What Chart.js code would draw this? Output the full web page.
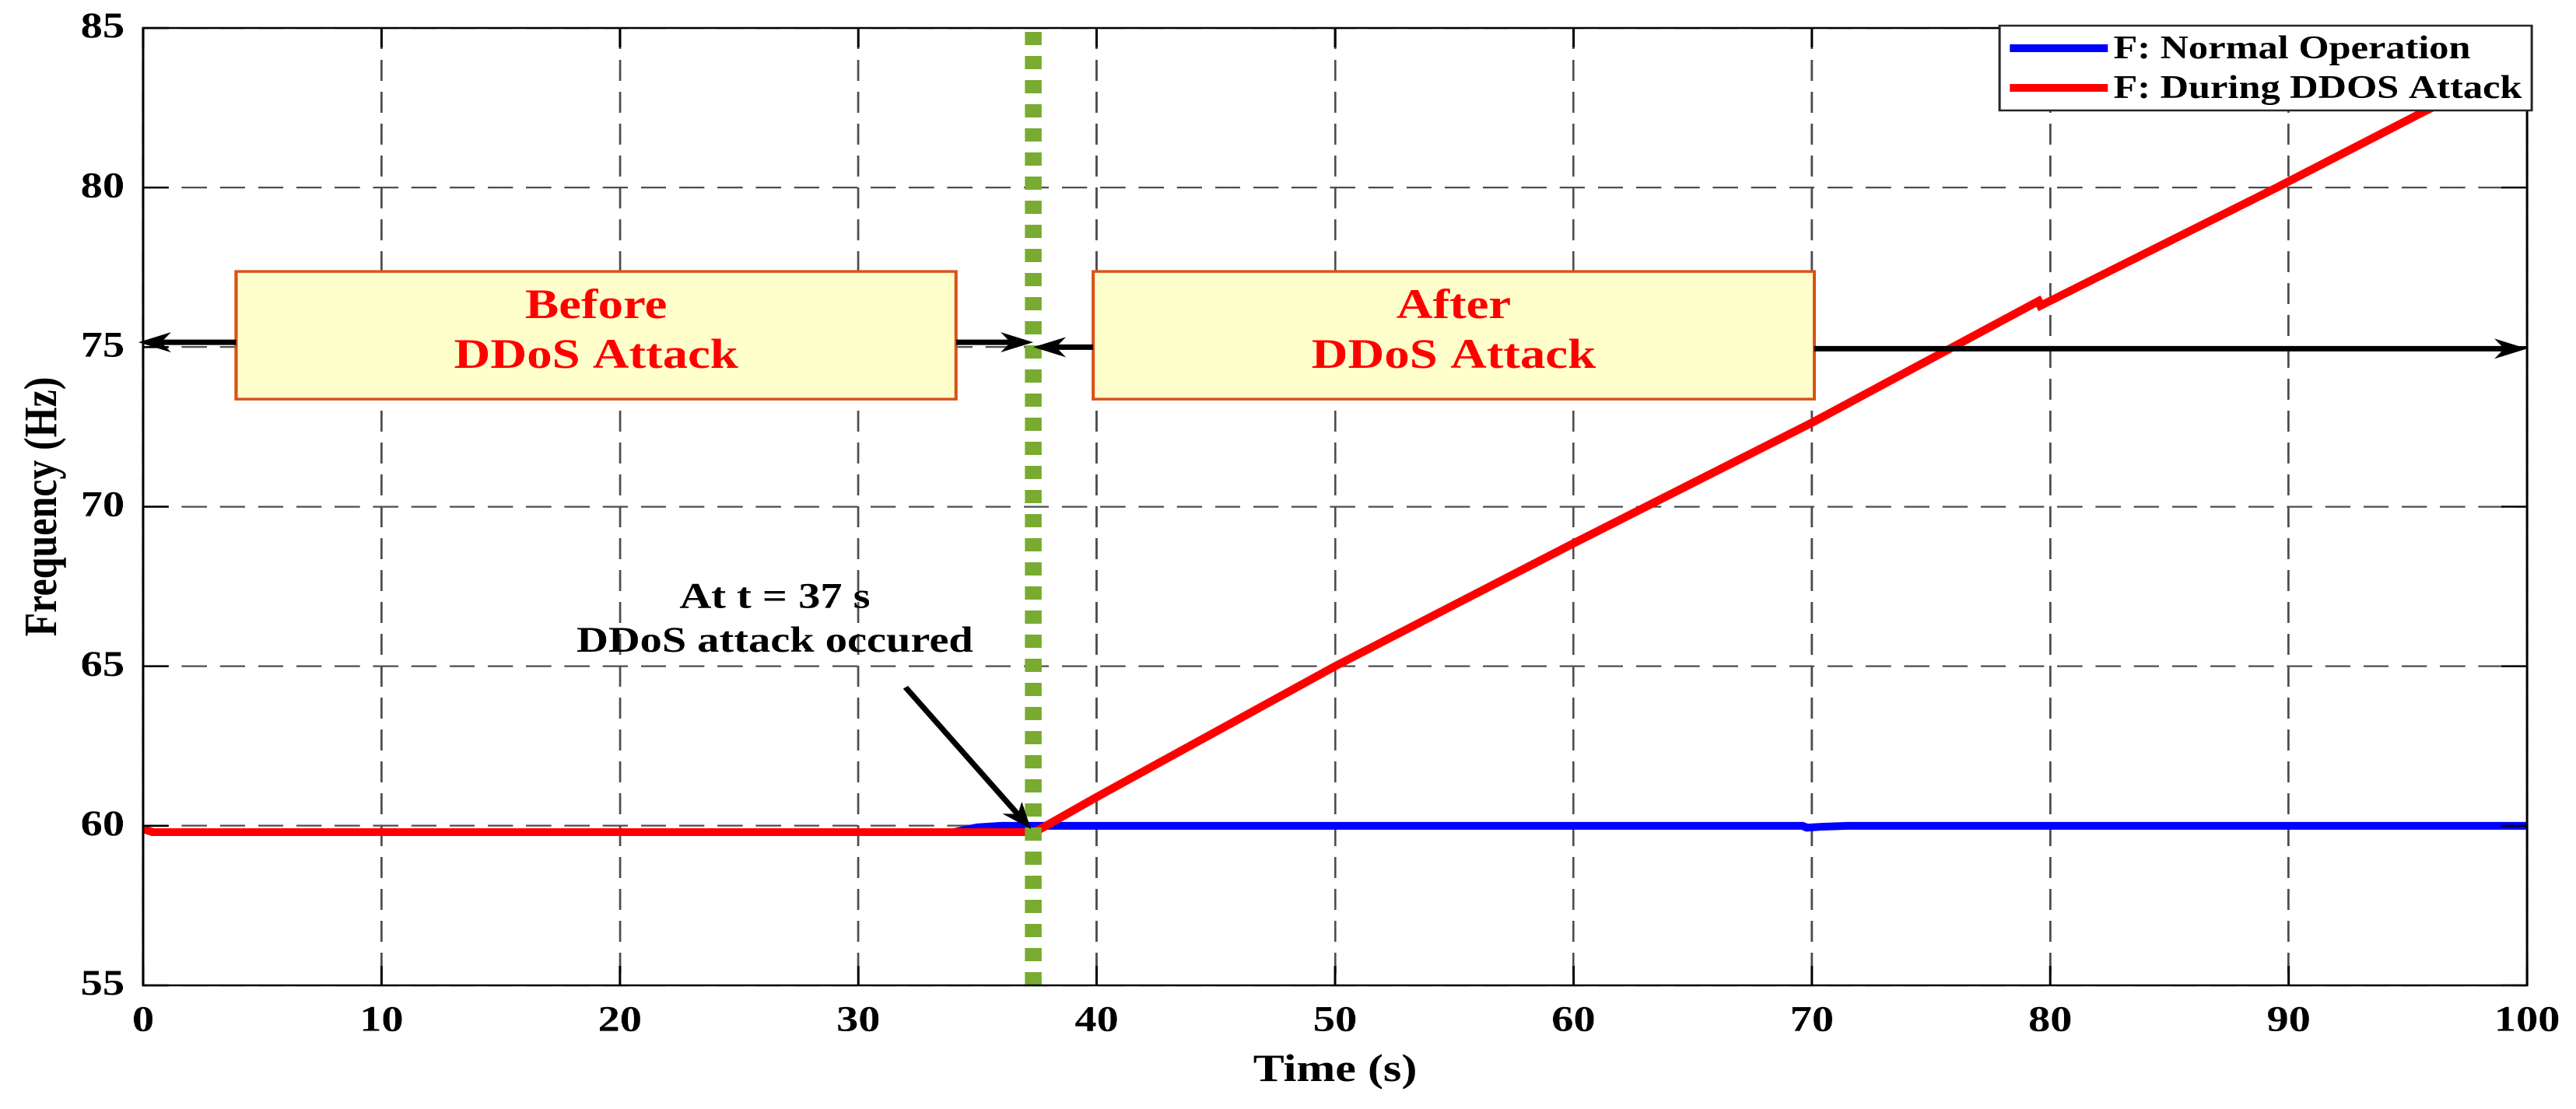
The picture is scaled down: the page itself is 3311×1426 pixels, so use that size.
<!DOCTYPE html>
<html>
<head>
<meta charset="utf-8">
<style>
  html, body { margin: 0; padding: 0; background: #fff; overflow: hidden; }
  /* the source figure is stretched sideways, so draw it narrow and widen it */
  #wrap { width: 2759.17px; height: 1426px; transform: scaleX(1.2); transform-origin: 0 0; }
</style>
</head>
<body>
<div id="wrap"><canvas id="freqChart"></canvas></div>
<script src="https://cdn.jsdelivr.net/npm/chart.js"></script>
<script>
    // values: time (s) / frequency (Hz)
    var timeNormal = [0, 0.4, 34, 35, 36, 69.6, 69.8, 70.4, 71.5, 100];
    var freqNormal = [59.9, 59.8, 59.8, 59.95, 60.0, 60.0, 59.94, 59.97, 60.0, 60.0];
    var timeAttack = [0, 0.4, 37.4, 40, 50, 60, 70, 79.5, 79.6, 89.5, 95.6, 100];
    var freqAttack = [59.9, 59.8, 59.8, 60.9, 65.0, 68.85, 72.63, 76.44, 76.3, 80.0, 82.35, 83.95];
    var attackTime = 37.34;
    var seriesLabels = ['F: Normal Operation', 'F: During DDOS Attack'];
    var xTickValues = [0, 10, 20, 30, 40, 50, 60, 70, 80, 90, 100];
    var yTickValues = [55, 60, 65, 70, 75, 80, 85];

    var FONT = '"Liberation Serif", "Times New Roman", serif';

    function pts(xs, ys) {
        return xs.map(function (t, i) { return { x: t, y: ys[i] }; });
    }

    function arrow(ctx, x1, y1, x2, y2, w, len, half) {
        var ang = Math.atan2(y2 - y1, x2 - x1);
        ctx.save();
        ctx.translate(x2, y2);
        ctx.rotate(ang);
        var d = Math.hypot(x2 - x1, y2 - y1);
        ctx.lineWidth = w;
        ctx.beginPath();
        ctx.moveTo(-d, 0);
        ctx.lineTo(-len * 0.7, 0);
        ctx.stroke();
        ctx.beginPath();
        ctx.moveTo(0, 0);
        ctx.lineTo(-len, -half);
        ctx.lineTo(-len * 0.7, 0);
        ctx.lineTo(-len, half);
        ctx.closePath();
        ctx.fill();
        ctx.restore();
    }

    var overlay = {
        id: 'overlay',
        afterDatasetsDraw: function (chart) {
            var ctx = chart.ctx, a = chart.chartArea, x = chart.scales.x, y = chart.scales.y;
            ctx.save();

            // axes box and inner ticks
            ctx.strokeStyle = '#000';
            ctx.lineWidth = 2.5;
            ctx.strokeRect(a.left, a.top, a.right - a.left, a.bottom - a.top);
            ctx.beginPath();
            x.ticks.forEach(function (t) {
                var px = x.getPixelForValue(t.value);
                ctx.moveTo(px, a.bottom); ctx.lineTo(px, a.bottom - 25);
                ctx.moveTo(px, a.top); ctx.lineTo(px, a.top + 25);
            });
            y.ticks.forEach(function (t) {
                var py = y.getPixelForValue(t.value);
                ctx.moveTo(a.left, py); ctx.lineTo(a.left + 27.5, py);
                ctx.moveTo(a.right, py); ctx.lineTo(a.right - 27.5, py);
            });
            ctx.stroke();

            // before / after boxes
            var boxes = [
                { t0: 3.9, t1: 34.1, lines: ['Before', 'DDoS Attack'] },
                { t0: 39.85, t1: 70.1, lines: ['After', 'DDoS Attack'] }
            ];
            boxes.forEach(function (b) {
                var l = x.getPixelForValue(b.t0), r = x.getPixelForValue(b.t1);
                var top = y.getPixelForValue(77.37), bot = y.getPixelForValue(73.37);
                ctx.fillStyle = '#FFFFCC';
                ctx.fillRect(l, top, r - l, bot - top);
                ctx.strokeStyle = '#D95319';
                ctx.lineWidth = 3.5;
                ctx.strokeRect(l, top, r - l, bot - top);
                ctx.fillStyle = '#FF0000';
                ctx.font = 'bold 54px ' + FONT;
                ctx.textAlign = 'center';
                ctx.textBaseline = 'alphabetic';
                ctx.fillText(b.lines[0], (l + r) / 2, top + 60);
                ctx.fillText(b.lines[1], (l + r) / 2, top + 124);
            });

            // span arrows
            ctx.strokeStyle = '#000';
            ctx.fillStyle = '#000';
            var spans = [
                [3.9, 75.15, -0.2, 75.15],
                [34.1, 75.15, attackTime, 75.15],
                [39.85, 75.0, attackTime, 75.0],
                [70.1, 74.95, 100, 74.95]
            ];
            spans.forEach(function (s) {
                arrow(ctx, x.getPixelForValue(s[0]), y.getPixelForValue(s[1]),
                    x.getPixelForValue(s[2]), y.getPixelForValue(s[3]), 7, 35, 13);
            });

            // attack note
            arrow(ctx, x.getPixelForValue(31.98), y.getPixelForValue(64.34),
                x.getPixelForValue(37.24), y.getPixelForValue(59.9), 6.5, 34, 13);
            ctx.font = 'bold 47px ' + FONT;
            ctx.textAlign = 'center';
            ctx.fillText('At t = 37 s', x.getPixelForValue(26.5), y.getPixelForValue(66.83));
            ctx.fillText('DDoS attack occured', x.getPixelForValue(26.5), y.getPixelForValue(65.46));

            ctx.restore();
        },
        afterDraw: function (chart) {
            // legend box inside the top right corner
            var ctx = chart.ctx, a = chart.chartArea;
            var w = 570, h = 109;
            var left = a.right + 5 - w, top = a.top - 3;
            ctx.save();
            ctx.fillStyle = '#fff';
            ctx.fillRect(left, top, w, h);
            ctx.strokeStyle = '#262626';
            ctx.lineWidth = 2.5;
            ctx.strokeRect(left, top, w, h);
            ctx.font = 'bold 42px ' + FONT;
            ctx.textAlign = 'left';
            ctx.textBaseline = 'alphabetic';
            [0, 1].forEach(function (i) {
                var ds = chart.data.datasets[i];
                ctx.strokeStyle = ds.borderColor;
                ctx.lineWidth = 10;
                ctx.beginPath();
                ctx.moveTo(left + 11, top + 29 + i * 51);
                ctx.lineTo(left + 116, top + 29 + i * 51);
                ctx.stroke();
                ctx.fillStyle = '#000';
                ctx.fillText(ds.label, left + 122, top + 42 + i * 51);
            });
            ctx.restore();
        }
    };

    var ctx = document.getElementById('freqChart').getContext('2d');
    var freqChart = new Chart(ctx, {
        type: 'line',
        data: {
            datasets: [{
                label: seriesLabels[0],
                data: pts(timeNormal, freqNormal),
                borderColor: '#0000FF',
                borderWidth: 10,
                order: 2
            }, {
                label: seriesLabels[1],
                data: pts(timeAttack, freqAttack),
                borderColor: '#FF0000',
                borderWidth: 10,
                order: 1
            }, {
                label: 'attack',
                data: [{ x: attackTime, y: 55 }, { x: attackTime, y: 85 }],
                borderColor: '#77AC30',
                borderWidth: 18,
                borderDash: [17, 14],
                borderCapStyle: 'butt',
                order: 0
            }]
        },
        options: {
            animation: false,
            responsive: true,
            maintainAspectRatio: false,
            devicePixelRatio: 2,
            layout: { padding: { left: 0, right: 52.5, top: 36, bottom: 0 } },
            elements: { point: { radius: 0 }, line: { tension: 0 } },
            plugins: { legend: { display: false }, tooltip: { enabled: false } },
            scales: {
                x: {
                    type: 'linear',
                    min: 0, max: 100,
                    afterBuildTicks: function (s) { s.ticks = xTickValues.map(function (v) { return { value: v }; }); },
                    afterFit: function (s) { s.height = 159; s.paddingLeft = 0; s.paddingRight = 0; },
                    grid: { color: '#4d4d4d', lineWidth: 2.3, drawTicks: false },
                    border: { display: false, dash: [27, 14] },
                    ticks: { color: '#000', padding: 18, maxRotation: 0, font: { family: FONT, size: 47, weight: 'bold' } },
                    title: { display: true, text: 'Time (s)', color: '#000', padding: { top: 0, bottom: 19 }, font: { family: FONT, size: 50, weight: 'bold' } }
                },
                y: {
                    min: 55, max: 85,
                    afterBuildTicks: function (s) { s.ticks = yTickValues.map(function (v) { return { value: v }; }); },
                    afterFit: function (s) { s.width = 153.33; s.paddingTop = 0; s.paddingBottom = 0; },
                    grid: { color: '#4d4d4d', lineWidth: 2.3, drawTicks: false },
                    border: { display: false, dash: [27, 14] },
                    ticks: { color: '#000', padding: 20, font: { family: FONT, size: 47, weight: 'bold' } },
                    title: { display: true, text: 'Frequency (Hz)', color: '#000', padding: { top: 17, bottom: 0 }, font: { family: FONT, size: 50, weight: 'bold' } }
                }
            }
        },
        plugins: [overlay]
    });
</script>
</body>
</html>
